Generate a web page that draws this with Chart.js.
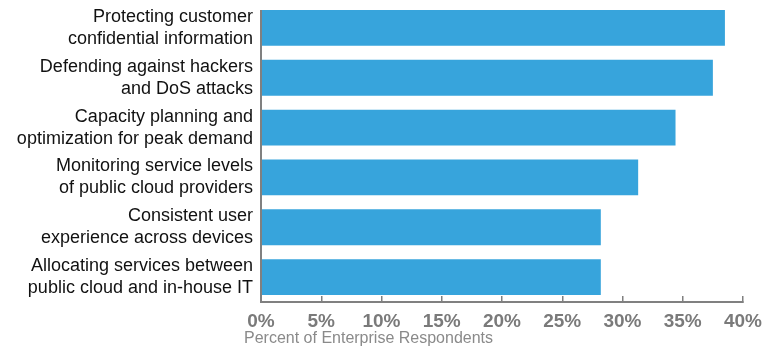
<!DOCTYPE html>
<html>
<head>
<meta charset="utf-8">
<script src="https://cdn.jsdelivr.net/npm/chart.js@4"></script>
<style>
  html, body { margin: 0; padding: 0; background: #fff; }
  #wrap { width: 783px; height: 347px; position: relative; }
</style>
</head>
<body>
<div id="wrap"><canvas id="concernsChart"></canvas></div>
<script>
const categories = [
    ['Protecting customer', 'confidential information'],
    ['Defending against hackers', 'and DoS attacks'],
    ['Capacity planning and', 'optimization for peak demand'],
    ['Monitoring service levels', 'of public cloud providers'],
    ['Consistent user', 'experience across devices'],
    ['Allocating services between', 'public cloud and in-house IT']
];
const percentages = [38.5, 37.5, 34.4, 31.3, 28.2, 28.2];
const tickValues = [0, 5, 10, 15, 20, 25, 30, 35, 40];
const axisTitle = 'Percent of Enterprise Respondents';
const axisColor = '#808080';

// axis title sits left of the plot, and the left axis line starts at the first bar
const axisDecorPlugin = {
    id: 'axisDecorPlugin',
    afterDatasetsDraw(chart) {
        const ctx = chart.ctx;
        const area = chart.chartArea;
        const first = chart.getDatasetMeta(0).data[0];
        ctx.save();
        ctx.strokeStyle = axisColor;
        ctx.lineWidth = 2;
        ctx.beginPath();
        ctx.moveTo(area.left, first.y - first.height / 2);
        ctx.lineTo(area.left, area.bottom);
        ctx.stroke();

        ctx.font = '16px "Liberation Sans", Arial, sans-serif';
        ctx.fillStyle = '#8a8a8a';
        ctx.textBaseline = 'middle';
        ctx.textAlign = 'left';
        ctx.fillText(axisTitle, area.left - 17, 339);
        ctx.restore();
    }
};

document.addEventListener('DOMContentLoaded', function () {
    const ctx = document.getElementById('concernsChart');
    new Chart(ctx, {
        type: 'bar',
        data: {
            labels: categories,
            datasets: [{
                data: percentages,
                backgroundColor: '#37a4dc',
                barPercentage: 0.9,
                categoryPercentage: 0.8
            }]
        },
        options: {
            indexAxis: 'y',
            responsive: true,
            maintainAspectRatio: false,
            animation: false,
            layout: { padding: { top: 3, right: 40, left: 0, bottom: 0 } },
            plugins: {
                legend: { display: false },
                tooltip: { enabled: false }
            },
            scales: {
                x: {
                    min: 0,
                    max: 40,
                    afterBuildTicks(scale) {
                        scale.ticks = tickValues.map(v => ({ value: v }));
                    },
                    afterFit(scale) { scale.height = 45; },
                    border: { display: true, color: axisColor, width: 2 },
                    grid: {
                        drawOnChartArea: false,
                        drawTicks: true,
                        tickLength: -6,
                        color: axisColor,
                        lineWidth: 1.5
                    },
                    ticks: {
                        padding: 14,
                        autoSkip: false,
                        color: '#7a7a7a',
                        font: { family: '"Liberation Sans", Arial, sans-serif', size: 19, weight: 'bold' },
                        callback: v => v + '%',
                        maxRotation: 0
                    }
                },
                y: {
                    afterFit(scale) {
                        scale.width = 261;
                        scale.paddingTop = 0;
                        scale.paddingBottom = 0;
                    },
                    border: { display: false },
                    grid: { display: false, drawTicks: false },
                    ticks: {
                        padding: 8,
                        autoSkip: false,
                        color: '#111',
                        font: { family: '"Liberation Sans", Arial, sans-serif', size: 18, lineHeight: 1.22 }
                    }
                }
            }
        },
        plugins: [axisDecorPlugin]
    });
});
</script>
</body>
</html>
